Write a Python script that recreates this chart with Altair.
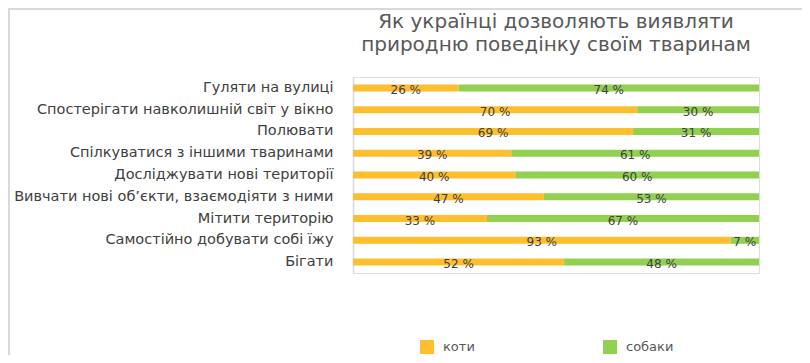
import altair as alt
import pandas as pd

categories = [
    "Гуляти на вулиці",
    "Спостерігати навколишній світ у вікно",
    "Полювати",
    "Спілкуватися з іншими тваринами",
    "Досліджувати нові території",
    "Вивчати нові об’єкти, взаємодіяти з ними",
    "Мітити територію",
    "Самостійно добувати собі їжу",
    "Бігати",
]
cats = [26, 70, 69, 39, 40, 47, 33, 93, 52]
dogs = [74, 30, 31, 61, 60, 53, 67, 7, 48]
series = ["коти", "собаки"]
colors = ["#FEBE2D", "#92D050"]

rows = []
for i, c in enumerate(categories):
    rows.append({"cat": c, "series": series[0], "order": 0, "value": cats[i]})
    rows.append({"cat": c, "series": series[1], "order": 1, "value": dogs[i]})
df = pd.DataFrame(rows)

W, H = 406, 196
FONT = "DejaVu Sans"

base = alt.Chart(df).transform_stack(
    stack="value", groupby=["cat"], as_=["start", "end"], sort=[alt.SortField("order")]
).transform_calculate(
    mid="(datum.start + datum.end) / 2", label="datum.value + ' %'"
)

xscale = alt.Scale(domain=[0, 100], nice=False, zero=True)
yenc = alt.Y(
    "cat:N",
    sort=categories,
    title=None,
    axis=alt.Axis(
        domainColor="#d9d9d9",
        domainWidth=1.5,
        ticks=False,
        labelFont=FONT,
        labelFontSize=14.5,
        labelColor="#404040",
        labelPadding=20,
        labelLimit=400,
    ),
    scale=alt.Scale(paddingInner=0, paddingOuter=0),
)

bars = base.mark_bar(size=7).encode(
    x=alt.X("start:Q", scale=xscale, axis=None),
    x2="end:Q",
    y=yenc,
    color=alt.Color(
        "series:N",
        scale=alt.Scale(domain=series, range=colors),
        sort=series,
        legend=alt.Legend(
            title=None,
            orient="none",
            direction="horizontal",
            legendX=67,
            legendY=263,
            symbolType="square",
            symbolSize=196,
            symbolStrokeWidth=0,
            labelFont=FONT,
            labelFontSize=13,
            labelColor="#595959",
            labelOffset=9,
            columnPadding=128,
        ),
    ),
    order=alt.Order("order:Q"),
)

labels = base.mark_text(
    font=FONT, fontSize=12, color="#404040", dy=2
).encode(
    x=alt.X("mid:Q", scale=xscale),
    y=alt.Y("cat:N", sort=categories),
    text="label:N",
)

border = alt.Chart(pd.DataFrame({"a": [0]})).mark_rect(
    filled=False, stroke="#d9d9d9", strokeWidth=2
).encode(
    x=alt.value(-344),
    x2=alt.value(452),
    y=alt.value(-68),
    y2=alt.value(280),
)

chart = alt.layer(border, bars, labels).properties(
    width=W,
    height=H,
    autosize=alt.AutoSizeParams(type="none"),
    padding={"left": 345, "top": 69, "right": 43, "bottom": 82},
    title=alt.TitleParams(
        ["Як українці дозволяють виявляти", "природню поведінку своїм тваринам"],
        font=FONT,
        fontSize=20,
        fontWeight="normal",
        color="#595959",
        anchor="middle",
        dy=61,
        lineHeight=23.5,
        offset=14,
    ),
).configure_view(strokeWidth=0).configure(background="white")

chart.save("out.html", embed_options={"renderer": "svg", "actions": False})
